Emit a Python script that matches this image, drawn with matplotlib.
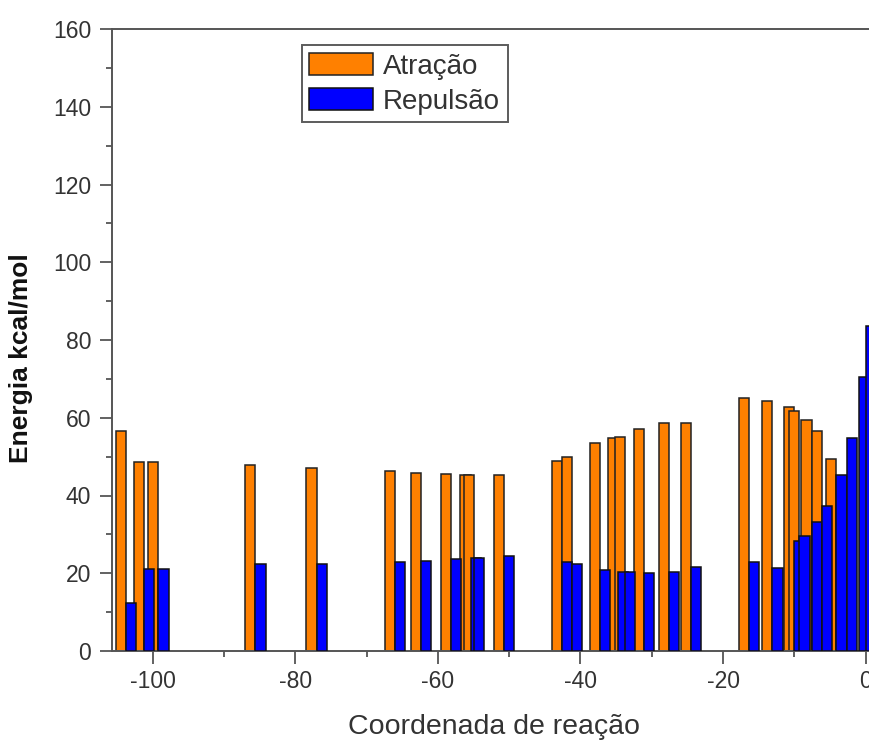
import numpy as np
import matplotlib
matplotlib.use("Agg")
from matplotlib import pyplot as plt
from matplotlib.ticker import MultipleLocator

plt.rcParams['font.family'] = ['Liberation Sans', 'DejaVu Sans']
plt.rcParams['axes.unicode_minus'] = False

# reaction coordinate of each point and its two energy terms (kcal/mol)
coord = np.array([-103.7, -101.2, -99.2, -85.6, -77.0, -66.0, -62.4, -58.2,
                  -55.4, -54.9, -50.7, -42.6, -41.2, -37.3, -34.7, -33.8,
                  -31.1, -27.6, -24.5, -16.4, -13.1, -10.0, -9.3, -7.6,
                  -6.1, -4.1, -2.6, -1.0, 0.0])
atracao = np.array([56.7, 48.6, 48.6, 47.8, 47.0, 46.3, 45.7, 45.6,
                    45.4, 45.4, 45.3, 49.0, 49.8, 53.4, 54.7, 55.0,
                    57.1, 58.7, 58.7, 65.2, 64.4, 62.7, 61.8, 59.4,
                    56.7, 49.3, np.nan, np.nan, np.nan])
repulsao = np.array([12.3, 21.2, 21.2, 22.5, 22.5, 22.8, 23.2, 23.7,
                     24.0, 24.0, 24.4, 22.8, 22.4, 20.8, 20.4, 20.4,
                     20.1, 20.4, 21.6, 22.8, 21.3, 28.4, 29.6, 33.3,
                     37.3, 45.4, 54.7, 70.6, 83.7])

w = 1.43
spine_col = '#555555'
text_col = '#333333'

fig = plt.figure(figsize=(8.69, 7.42), dpi=100)
ax = fig.add_axes([112 / 869, 91 / 742, 757 / 869, 622 / 742])

ax.bar(coord - w / 2, atracao, w, color='#FF8000', edgecolor='#222222',
       linewidth=1.1, label='Atração', zorder=2)
ax.bar(coord + w / 2, repulsao, w, color='#0000FF', edgecolor='#111111',
       linewidth=1.1, label='Repulsão', zorder=3)

ax.set_xlim(-105.7, 0.46)
ax.set_ylim(0, 160)
ax.xaxis.set_major_locator(MultipleLocator(20))
ax.xaxis.set_minor_locator(MultipleLocator(10))
ax.yaxis.set_major_locator(MultipleLocator(20))
ax.yaxis.set_minor_locator(MultipleLocator(10))

ax.spines['right'].set_visible(False)
for s in ['left', 'bottom', 'top']:
    ax.spines[s].set_color(spine_col)
    ax.spines[s].set_linewidth(1.4)

ax.tick_params(which='major', direction='out', length=9, width=1.3,
               color=spine_col, labelsize=16.5, labelcolor=text_col, pad=5)
ax.tick_params(which='minor', direction='out', length=4.5, width=1.3,
               color=spine_col)
ax.tick_params(top=False, right=False, which='both')
ax.tick_params(axis='y', pad=6)

ax.set_ylabel('Energia kcal/mol', fontsize=19, fontweight='bold', color='#111111')
ax.yaxis.set_label_coords(-0.104, 0.471)
ax.set_xlabel('Coordenada de reação', fontsize=20.5, color=text_col)
ax.xaxis.set_label_coords(0.505, -0.102)
ax.xaxis.label.set_verticalalignment('top')

leg = ax.legend(loc='upper left', bbox_to_anchor=(0.2506, 0.974),
                borderaxespad=0, fontsize=20, fancybox=False,
                handlelength=2.3, handleheight=0.85, handletextpad=0.35,
                borderpad=0.28, labelspacing=0.3, frameon=True)
leg.get_frame().set_edgecolor('#333333')
leg.get_frame().set_linewidth(1.4)
for t in leg.get_texts():
    t.set_color(text_col)

fig.savefig('out.png', dpi=100)
